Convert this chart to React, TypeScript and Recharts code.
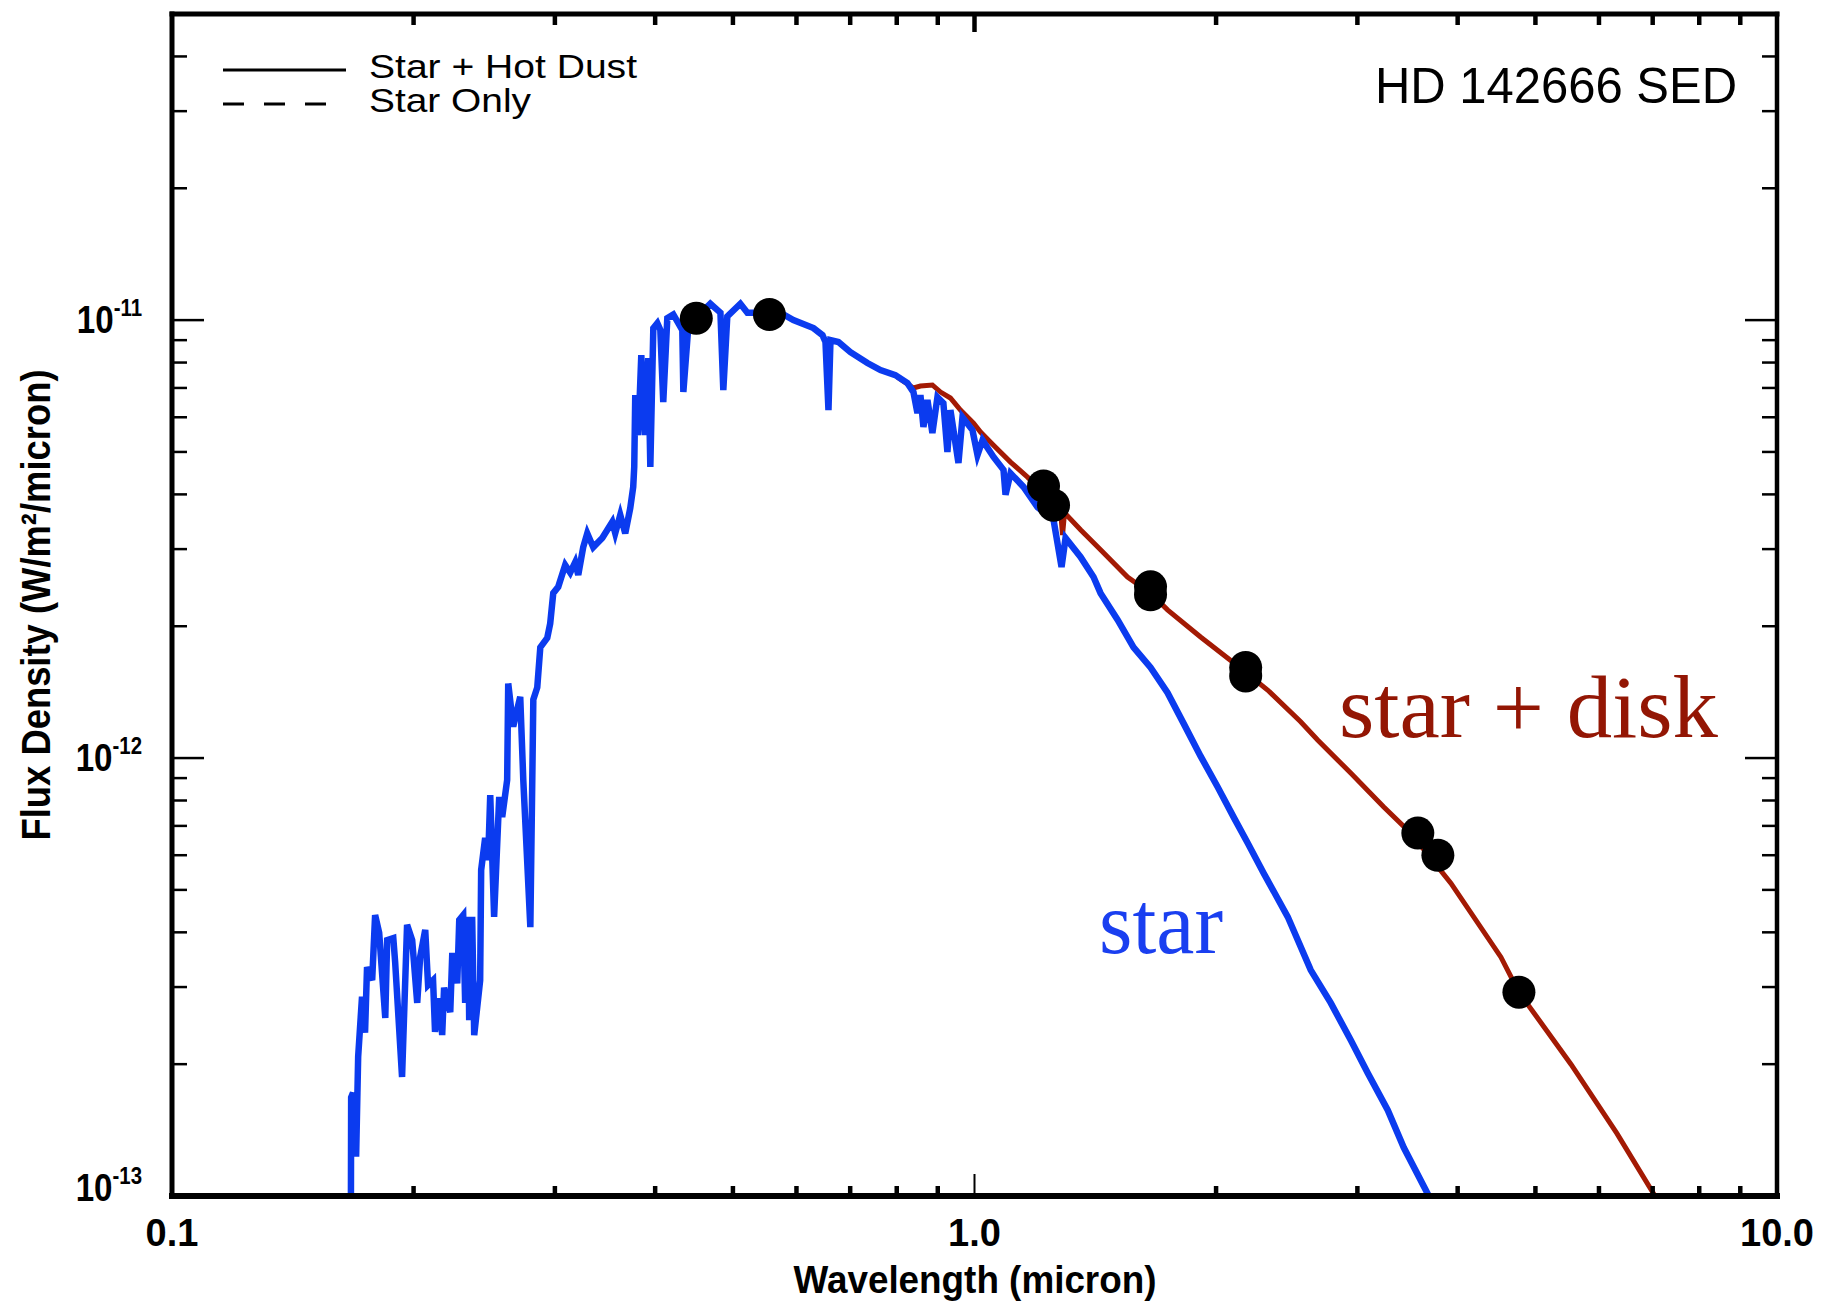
import React from "react";
import { ComposedChart, Line, Scatter, XAxis, YAxis } from "recharts";

// wavelength in micron, flux in units of 1e-12 W/m^2/micron
const starWave = [
    0.1671, 0.1672, 0.1681, 0.1696, 0.1706, 0.1725, 0.174, 0.175, 0.1776, 0.1791,
    0.1812, 0.1844, 0.1854, 0.1887, 0.1897, 0.1935, 0.1963, 0.1992, 0.2021, 0.2038,
    0.2068, 0.2085, 0.2115, 0.2127, 0.2158, 0.2171, 0.2183, 0.2222, 0.2235, 0.2267,
    0.228, 0.2306, 0.2319, 0.2339, 0.2346, 0.2366, 0.238, 0.2421, 0.2428, 0.2456,
    0.2477, 0.2492, 0.252, 0.2557, 0.2579, 0.2616, 0.2624, 0.2662, 0.2716, 0.274,
    0.2796, 0.282, 0.2852, 0.2877, 0.2935, 0.296, 0.2986, 0.3029, 0.309, 0.3135,
    0.318, 0.3208, 0.3254, 0.3292, 0.3349, 0.3437, 0.3537, 0.3567, 0.3619, 0.3671,
    0.3724, 0.3756, 0.3767, 0.3778, 0.3811, 0.3844, 0.3888, 0.3922, 0.3945, 0.3979,
    0.4025, 0.406, 0.4094, 0.4142, 0.4214, 0.4324, 0.4337, 0.4399, 0.4514, 0.4686,
    0.4824, 0.4864, 0.492, 0.5108, 0.5212, 0.552, 0.573, 0.5947, 0.63, 0.6465,
    0.6521, 0.6577, 0.6615, 0.6768, 0.7006, 0.7355, 0.7635, 0.7969, 0.825, 0.8393,
    0.849, 0.8563, 0.8637, 0.8737, 0.8862, 0.8991, 0.9146, 0.9252, 0.9332, 0.955,
    0.9661, 0.9942, 1.0086, 1.0233, 1.0561, 1.0868, 1.0931, 1.1089, 1.151, 1.1983,
    1.2545, 1.2837, 1.2985, 1.3556, 1.4071, 1.4357, 1.5074, 1.5783, 1.6571, 1.7399,
    1.8219, 1.913, 2.0091, 2.1033, 2.1899, 2.2927, 2.4566, 2.6242, 2.7792, 2.9431,
    3.0903, 3.2734, 3.4268, 3.6826,
];
const starFlux = [
    0.1, 0.168, 0.172, 0.123, 0.208, 0.285, 0.236, 0.333, 0.311, 0.438,
    0.399, 0.255, 0.384, 0.388, 0.342, 0.187, 0.416, 0.384, 0.276, 0.351,
    0.405, 0.303, 0.311, 0.237, 0.283, 0.233, 0.299, 0.263, 0.359, 0.306,
    0.427, 0.438, 0.276, 0.434, 0.252, 0.434, 0.233, 0.311, 0.555, 0.657,
    0.585, 0.823, 0.434, 0.815, 0.733, 0.891, 1.48, 1.18, 1.38, 0.891,
    0.411, 1.36, 1.45, 1.79, 1.88, 2.03, 2.38, 2.46, 2.76, 2.65,
    2.8, 2.62, 3.03, 3.26, 3.03, 3.18, 3.46, 3.26, 3.59, 3.26,
    3.72, 4.16, 4.62, 6.74, 5.46, 8.32, 5.46, 8.19, 4.62, 9.59,
    9.84, 9.49, 6.5, 10.1, 10.3, 9.49, 6.85, 9.64, 10.2, 10.9,
    10.4, 6.92, 10.2, 10.9, 10.4, 10.4, 10.4, 10.0, 9.59, 9.24,
    8.91, 6.23, 9.0, 8.91, 8.45, 7.98, 7.69, 7.49, 7.18, 6.85,
    6.13, 6.74, 5.7, 6.57, 5.52, 6.67, 6.46, 5.0, 6.23, 4.72,
    6.0, 5.61, 4.92, 5.32, 4.87, 4.55, 3.99, 4.47, 4.16, 3.74,
    3.5, 2.73, 3.18, 2.88, 2.59, 2.38, 2.07, 1.79, 1.61, 1.41,
    1.2, 1.01, 0.859, 0.733, 0.64, 0.546, 0.434, 0.328, 0.276, 0.227,
    0.191, 0.157, 0.129, 0.1,
];

const diskWave = [
    0.8017, 0.8393, 0.8563, 0.8862, 0.9071, 0.9332, 0.9606, 0.9972, 1.0174, 1.0561,
    1.1089, 1.1644, 1.219, 1.28, 1.2874, 1.2948, 1.3556, 1.4357, 1.5513, 1.6571,
    1.7399, 1.913, 2.1033, 2.3188, 2.5494, 2.6768, 2.9431, 3.2359, 3.4963, 3.9228,
    4.529, 4.7687, 5.5361, 6.3166, 7.0469,
];
const diskFlux = [
    7.41, 7.0, 7.07, 7.11, 6.85, 6.64, 6.23, 5.82, 5.55, 5.18,
    4.74, 4.38, 4.03, 3.68, 3.23, 3.63, 3.32, 2.99, 2.59, 2.38,
    2.18, 1.89, 1.65, 1.43, 1.21, 1.1, 0.924, 0.773, 0.674, 0.518,
    0.351, 0.292, 0.2, 0.139, 0.1,
];

const photWave = [0.4501, 0.5552, 1.219, 1.2545, 1.6571, 1.6571, 2.1773, 2.1773, 3.568, 3.7793, 4.7687];
const photFlux = [10.1, 10.3, 4.18, 3.78, 2.46, 2.36, 1.61, 1.54, 0.674, 0.6, 0.292];

const xTicks = [0.1, 0.2, 0.3, 0.4, 0.5, 0.6, 0.7, 0.8, 0.9, 1, 2, 3, 4, 5, 6, 7, 8, 9, 10];
const xMajor = [0.1, 1, 10];
const xLabels = ["0.1", "1.0", "10.0"];
const yTicks = [
    1e-13, 2e-13, 3e-13, 4e-13, 5e-13, 6e-13, 7e-13, 8e-13, 9e-13,
    1e-12, 2e-12, 3e-12, 4e-12, 5e-12, 6e-12, 7e-12, 8e-12, 9e-12,
    1e-11, 2e-11, 3e-11, 4e-11,
];

const toRows = (w: number[], f: number[]) => w.map((x, i) => ({ w: x, f: f[i] * 1e-12 }));
const starData = toRows(starWave, starFlux);
const diskData = toRows(diskWave, diskFlux);
const photData = toRows(photWave, photFlux);

const BLUE = "#0b3bef";
const RED = "#a31a04";
const FONT = "'Liberation Sans', Arial, Helvetica, sans-serif";

const majorIndex = (v: number) => xMajor.findIndex((m) => Math.abs(m - v) < 1e-9);
const isDecade = (v: number) => {
    const l = Math.log10(v);
    return Math.abs(l - Math.round(l)) < 1e-6;
};

const BottomTick = (props: any) => {
    const { x, y, payload } = props;
    const i = majorIndex(payload.value);
    if (i >= 0) {
        return (
            <g>
                {i === 1 && <line x1={x} y1={y} x2={x} y2={y - 22} stroke="#000" strokeWidth={2} />}
                <text x={x} y={y + 50} textAnchor="middle" fontFamily={FONT} fontWeight="bold" fontSize={38} fill="#000">
                    {xLabels[i]}
                </text>
            </g>
        );
    }
    return <line x1={x} y1={y} x2={x} y2={y - 10} stroke="#000" strokeWidth={4.5} />;
};

const TopTick = (props: any) => {
    const { x, y, payload } = props;
    const i = majorIndex(payload.value);
    if (i === 0 || i === 2) return <g />;
    return <line x1={x} y1={y} x2={x} y2={y + (i === 1 ? 18 : 11)} stroke="#000" strokeWidth={4.5} />;
};

const LeftTick = (props: any) => {
    const { x, y, payload } = props;
    const v = payload.value;
    const major = isDecade(v);
    const exp = Math.round(Math.log10(v));
    const shift = exp === -13 ? -8 : 0;
    return (
        <g>
            <line x1={x} y1={y} x2={x + (major ? 32 : 15)} y2={y} stroke="#000" strokeWidth={2.5} />
            {major && (
                <g transform={`translate(${x - 30},${y + shift}) scale(0.85,1)`}>
                    <text x={0} y={13} textAnchor="end" fontFamily={FONT} fontWeight="bold" fontSize={39} fill="#000">
                        10
                        <tspan dy={-17} fontSize={24}>
                            {String(exp)}
                        </tspan>
                    </text>
                </g>
            )}
        </g>
    );
};

const RightTick = (props: any) => {
    const { x, y, payload } = props;
    const major = isDecade(payload.value);
    return <line x1={x} y1={y} x2={x - (major ? 32 : 15)} y2={y} stroke="#000" strokeWidth={2.5} />;
};

const Dot = (props: any) => <circle cx={props.cx} cy={props.cy} r={16.5} fill="#000" />;

export default function App() {
    return (
        <div style={{ position: "absolute", left: 0, top: 0, width: 1823, height: 1302, background: "#fff" }}>
            <ComposedChart width={1823} height={1302} margin={{ top: 10, right: 36, bottom: 46, left: 72 }}>
                <XAxis
                    xAxisId="b"
                    dataKey="w"
                    type="number"
                    scale="log"
                    domain={[0.1, 10]}
                    allowDataOverflow
                    ticks={xTicks}
                    interval={0}
                    height={60}
                    tickSize={0}
                    tickMargin={0}
                    tickLine={false}
                    tick={<BottomTick />}
                    axisLine={{ stroke: "#000", strokeWidth: 6, strokeLinecap: "square" }}
                />
                <XAxis
                    xAxisId="t"
                    orientation="top"
                    dataKey="w"
                    type="number"
                    scale="log"
                    domain={[0.1, 10]}
                    allowDataOverflow
                    ticks={xTicks}
                    interval={0}
                    height={4}
                    tickSize={0}
                    tickMargin={0}
                    tickLine={false}
                    tick={<TopTick />}
                    axisLine={{ stroke: "#000", strokeWidth: 5, strokeLinecap: "square" }}
                />
                <YAxis
                    yAxisId="l"
                    dataKey="f"
                    type="number"
                    scale="log"
                    domain={[1e-13, 5e-11]}
                    allowDataOverflow
                    ticks={yTicks}
                    interval={0}
                    width={100}
                    tickSize={0}
                    tickMargin={0}
                    tickLine={false}
                    tick={<LeftTick />}
                    axisLine={{ stroke: "#000", strokeWidth: 5, strokeLinecap: "square" }}
                />
                <YAxis
                    yAxisId="r"
                    orientation="right"
                    dataKey="f"
                    type="number"
                    scale="log"
                    domain={[1e-13, 5e-11]}
                    allowDataOverflow
                    ticks={yTicks}
                    interval={0}
                    width={10}
                    tickSize={0}
                    tickMargin={0}
                    tickLine={false}
                    tick={<RightTick />}
                    axisLine={{ stroke: "#000", strokeWidth: 4.5, strokeLinecap: "square" }}
                />
                <Line
                    xAxisId="b"
                    yAxisId="l"
                    data={diskData}
                    dataKey="f"
                    type="linear"
                    stroke={RED}
                    strokeWidth={5}
                    dot={false}
                    activeDot={false}
                    isAnimationActive={false}
                />
                <Line
                    xAxisId="b"
                    yAxisId="l"
                    data={starData}
                    dataKey="f"
                    type="linear"
                    stroke={BLUE}
                    strokeWidth={6.5}
                    dot={false}
                    activeDot={false}
                    isAnimationActive={false}
                />
                <Scatter
                    xAxisId="b"
                    yAxisId="l"
                    data={photData}
                    dataKey="f"
                    fill="#000"
                    shape={<Dot />}
                    isAnimationActive={false}
                />
            </ComposedChart>

            {/* labels, legend and annotations */}
            <svg
                width={1823}
                height={1302}
                style={{ position: "absolute", left: 0, top: 0, pointerEvents: "none" }}
            >
                <line x1={223} y1={70} x2={346} y2={70} stroke="#000" strokeWidth={3} />
                <line x1={223} y1={104} x2={326} y2={104} stroke="#000" strokeWidth={3} strokeDasharray="21 20" />
                <text x={369} y={78} fontFamily={FONT} fontSize={33} textLength={268} lengthAdjust="spacingAndGlyphs">
                    Star + Hot Dust
                </text>
                <text x={369} y={112} fontFamily={FONT} fontSize={33} textLength={162} lengthAdjust="spacingAndGlyphs">
                    Star Only
                </text>
                <text x={1375} y={103} fontFamily={FONT} fontSize={50} textLength={362} lengthAdjust="spacingAndGlyphs">
                    HD 142666 SED
                </text>
                <text
                    x={1339}
                    y={737}
                    fontFamily="'Liberation Serif', 'Times New Roman', serif"
                    fontSize={88}
                    fill="#931604"
                    textLength={379}
                    lengthAdjust="spacingAndGlyphs"
                >
                    star + disk
                </text>
                <text
                    x={1099}
                    y={953}
                    fontFamily="'Liberation Serif', 'Times New Roman', serif"
                    fontSize={88}
                    fill="#1a3ff0"
                    textLength={124}
                    lengthAdjust="spacingAndGlyphs"
                >
                    star
                </text>
                <text
                    x={975}
                    y={1293}
                    textAnchor="middle"
                    fontFamily={FONT}
                    fontWeight="bold"
                    fontSize={38}
                    textLength={363}
                    lengthAdjust="spacingAndGlyphs"
                >
                    Wavelength (micron)
                </text>
                <text
                    x={50}
                    y={605}
                    transform="rotate(-90 50 605)"
                    textAnchor="middle"
                    fontFamily={FONT}
                    fontWeight="bold"
                    fontSize={40}
                    textLength={471}
                    lengthAdjust="spacingAndGlyphs"
                >
                    Flux Density (W/m²/micron)
                </text>
            </svg>
        </div>
    );
}
